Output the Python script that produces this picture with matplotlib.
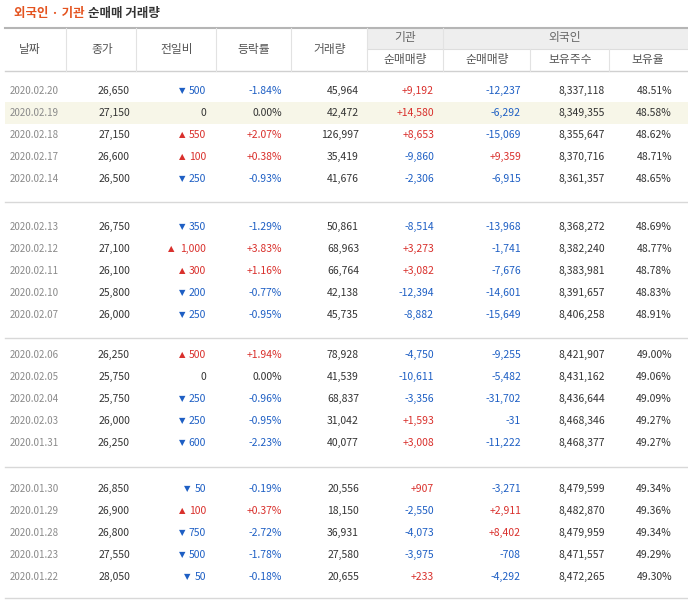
import matplotlib
matplotlib.use("Agg")
import matplotlib.pyplot as plt
from matplotlib.patches import Rectangle

plt.rcParams['font.family'] = ['Noto Sans CJK KR', 'DejaVu Sans']

dates = ["2020.02.20","2020.02.19","2020.02.18","2020.02.17","2020.02.14",
         "2020.02.13","2020.02.12","2020.02.11","2020.02.10","2020.02.07",
         "2020.02.06","2020.02.05","2020.02.04","2020.02.03","2020.01.31",
         "2020.01.30","2020.01.29","2020.01.28","2020.01.23","2020.01.22"]
close = [26650,27150,27150,26600,26500,26750,27100,26100,25800,26000,
         26250,25750,25750,26000,26250,26850,26900,26800,27550,28050]
change = [-500,0,550,100,-250,-350,1000,300,-200,-250,
          500,0,-250,-250,-600,-50,100,-750,-500,-50]
pct = [-1.84,0.00,2.07,0.38,-0.93,-1.29,3.83,1.16,-0.77,-0.95,
       1.94,0.00,-0.96,-0.95,-2.23,-0.19,0.37,-2.72,-1.78,-0.18]
volume = [45964,42472,126997,35419,41676,50861,68963,66764,42138,45735,
          78928,41539,68837,31042,40077,20556,18150,36931,27580,20655]
inst = [9192,14580,8653,-9860,-2306,-8514,3273,3082,-12394,-8882,
        -4750,-10611,-3356,1593,3008,907,-2550,-4073,-3975,233]
foreign = [-12237,-6292,-15069,9359,-6915,-13968,-1741,-7676,-14601,-15649,
           -9255,-5482,-31702,-31,-11222,-3271,2911,8402,-708,-4292]
holdings = [8337118,8349355,8355647,8370716,8361357,8368272,8382240,8383981,8391657,8406258,
            8421907,8431162,8436644,8468346,8468377,8479599,8482870,8479959,8471557,8472265]
ratio = [48.51,48.58,48.62,48.71,48.65,48.69,48.77,48.78,48.83,48.91,
         49.00,49.06,49.09,49.27,49.27,49.34,49.36,49.34,49.29,49.30]
headers = ["날짜","종가","전일비","등락률","거래량"]

RED = "#d9302c"; BLUE = "#1e5fc4"; DARK = "#333333"; GRAY = "#8a8a8a"

fig = plt.figure(figsize=(6.88, 6.08), dpi=100)
ax = fig.add_axes([0, 0, 1, 1])
ax.set_xlim(0, 688); ax.set_ylim(608, 0); ax.axis('off')

# title
ax.text(14, 14, "외국인 · 기관", color="#e4531f", fontsize=9, fontweight='bold', va='center')
ax.text(88, 14, "순매매 거래량", color=DARK, fontsize=9, fontweight='bold', va='center')

# header
top, mid, bot = 28, 49, 71
ax.add_patch(Rectangle((367, top), 321, mid - top, color="#eeeeee", lw=0))
ax.plot([5, 688], [top, top], color="#b5b5b5", lw=1.5)
ax.plot([5, 688], [bot, bot], color="#d0d0d0", lw=1)
ax.plot([367, 688], [mid, mid], color="#dddddd", lw=0.8)
for xb in [66, 136, 216, 291, 367]:
    ax.plot([xb, xb], [top, bot], color="#e2e2e2", lw=0.8)
for xb in [443, 530, 609]:
    ax.plot([xb, xb], [mid, bot], color="#e2e2e2", lw=0.8)
ax.plot([443, 443], [top, mid], color="#e2e2e2", lw=0.8)
hx = [30, 102, 177, 254, 330]
for x, h in zip(hx, headers):
    ax.text(x, (top + bot) / 2, h, ha='center', va='center', fontsize=8.5, color="#555555")
ax.text(405, 38, "기관", ha='center', va='center', fontsize=8.5, color="#666666")
ax.text(565, 38, "외국인", ha='center', va='center', fontsize=8.5, color="#666666")
for x, h in zip([405, 487, 570, 648], ["순매매량", "순매매량", "보유주수", "보유율"]):
    ax.text(x, 60, h, ha='center', va='center', fontsize=8.5, color="#555555")

group_start = [91, 227, 355, 489]
seps = [202, 338, 467, 598]
for s in seps:
    ax.plot([5, 688], [s, s], color="#d8d8d8", lw=1)

fs = 7.5
for i in range(len(dates)):
    g, k = divmod(i, 5)
    y = group_start[g] + 22 * k
    if i == 1:
        ax.add_patch(Rectangle((5, y - 11), 683, 22, color="#f7f6e8", lw=0))
    ax.text(10, y, dates[i], ha='left', va='center', fontsize=7, color=GRAY)
    ax.text(130, y, f"{close[i]:,}", ha='right', va='center', fontsize=fs, color=DARK)
    c = change[i]
    if c != 0:
        s = f"{abs(c):,}"
        col = RED if c > 0 else BLUE
        ax.text(206, y, s, ha='right', va='center', fontsize=fs, color=col)
        ax.text(206 - 5.3 * len(s) - 5, y, "▲" if c > 0 else "▼", ha='right', va='center',
                fontsize=6, color=col, family=['DejaVu Sans'])
    else:
        ax.text(206, y, "0", ha='right', va='center', fontsize=fs, color=DARK)
    p = pct[i]
    pc = RED if p > 0 else (BLUE if p < 0 else DARK)
    ax.text(282, y, (f"+{p:.2f}%" if p > 0 else f"{p:.2f}%"), ha='right', va='center', fontsize=fs, color=pc)
    ax.text(359, y, f"{volume[i]:,}", ha='right', va='center', fontsize=fs, color=DARK)
    for val, xr in [(inst[i], 434), (foreign[i], 521)]:
        col = RED if val > 0 else BLUE
        ax.text(xr, y, (f"+{val:,}" if val > 0 else f"{val:,}"), ha='right', va='center', fontsize=fs, color=col)
    ax.text(605, y, f"{holdings[i]:,}", ha='right', va='center', fontsize=fs, color=DARK)
    ax.text(672, y, f"{ratio[i]:.2f}%", ha='right', va='center', fontsize=fs, color=DARK)

fig.savefig("out.png", dpi=100)
